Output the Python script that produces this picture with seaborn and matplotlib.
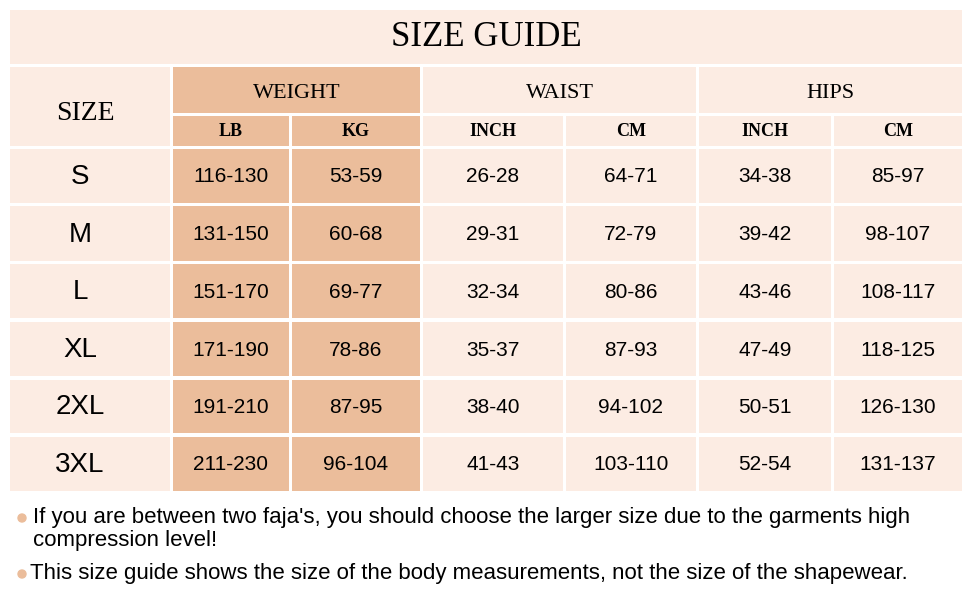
import matplotlib
matplotlib.use("Agg")
import matplotlib.pyplot as plt
from matplotlib.patches import Rectangle, Circle
import seaborn as sns

sns.set_style("white")
plt.rcParams["text.color"] = "black"

sizes = ["S", "M", "L", "XL", "2XL", "3XL"]
weight_lb = ["116-130", "131-150", "151-170", "171-190", "191-210", "211-230"]
weight_kg = ["53-59", "60-68", "69-77", "78-86", "87-95", "96-104"]
waist_inch = ["26-28", "29-31", "32-34", "35-37", "38-40", "41-43"]
waist_cm = ["64-71", "72-79", "80-86", "87-93", "94-102", "103-110"]
hips_inch = ["34-38", "39-42", "43-46", "47-49", "50-51", "52-54"]
hips_cm = ["85-97", "98-107", "108-117", "118-125", "126-130", "131-137"]
notes = ["If you are between two faja's, you should choose the larger size due to the garments high\ncompression level!",
         "This size guide shows the size of the body measurements, not the size of the shapewear."]

light = "#fcece3"
dark = "#ebbd9b"
serif = "Liberation Serif"
sans = "Liberation Sans"

fig = plt.figure(figsize=(9.7, 6), dpi=100)
ax = fig.add_axes([0, 0, 1, 1])
ax.set_xlim(0, 970)
ax.set_ylim(600, 0)
ax.axis("off")

cols = [(10, 170), (173, 289), (292, 420), (423, 563), (566, 696), (699, 831), (834, 962)]
rows = [(149, 203), (206, 261), (264, 318), (322, 376), (380, 433), (437, 491)]

def cell(x0, x1, y0, y1, color, text=None, tx=None, ty=None, **kw):
    ax.add_patch(Rectangle((x0, y0), x1 - x0, y1 - y0, color=color, lw=0))
    if text is not None:
        ax.text(tx if tx else (x0 + x1) / 2, ty if ty else (y0 + y1) / 2 + 1, text,
                ha="center", va="center", **kw)

cell(10, 962, 10, 64, light, "SIZE GUIDE", ty=38, family=serif, fontsize=25)
cell(10, 170, 67, 146, light, "SIZE", tx=85, ty=114, family=serif, fontsize=20)
cell(173, 420, 67, 113, dark, "WEIGHT", ty=93, family=serif, fontsize=16)
cell(423, 696, 67, 113, light, "WAIST", ty=93, family=serif, fontsize=16)
cell(699, 962, 67, 113, light, "HIPS", ty=93, family=serif, fontsize=16)
subs = ["LB", "KG", "INCH", "CM", "INCH", "CM"]
for i, s in enumerate(subs):
    x0, x1 = cols[i + 1]
    cell(x0, x1, 116, 146, dark if i < 2 else light, s, family=serif, fontsize=13, weight="bold")

table = [sizes, weight_lb, weight_kg, waist_inch, waist_cm, hips_inch, hips_cm]
for c, vals in enumerate(table):
    x0, x1 = cols[c]
    for r, v in enumerate(vals):
        y0, y1 = rows[r]
        if c == 0:
            cell(x0, x1, y0, y1, light, v, tx=80, family=sans, fontsize=20)
        else:
            cell(x0, x1, y0, y1, dark if c in (1, 2) else light, v, family=sans, fontsize=15)

ax.add_patch(Circle((22, 518), 4, color=dark))
ax.text(33, 507, notes[0], family=sans, fontsize=16, va="top", linespacing=1.1)
ax.add_patch(Circle((22, 574), 4, color=dark))
ax.text(30, 574, notes[1], family=sans, fontsize=16, va="center")

fig.savefig("out.png", dpi=100)
